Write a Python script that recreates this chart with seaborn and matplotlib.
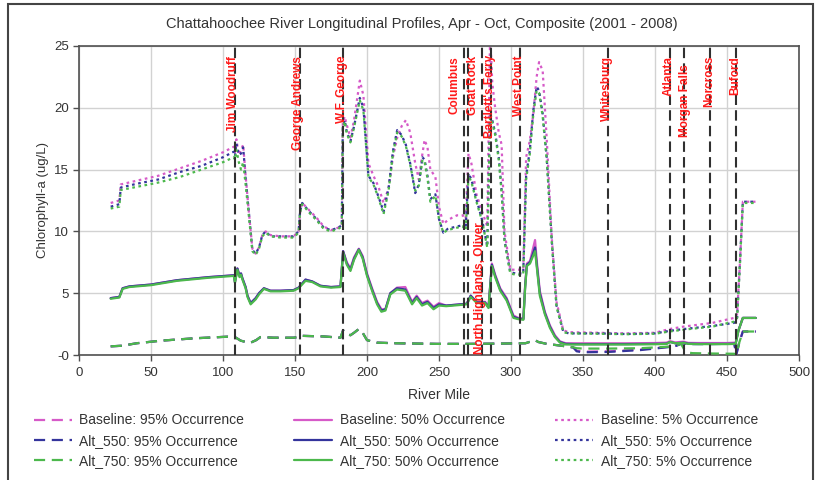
import matplotlib
matplotlib.use("Agg")
import matplotlib.pyplot as plt
import seaborn as sns
from matplotlib.lines import Line2D
from matplotlib.patches import Rectangle

# ---------------- data ----------------
miles_p5 = [22, 28, 29, 40, 55, 70, 85, 100, 107.5, 108.3, 109.3, 111, 112.5, 114, 115.7, 118, 120.4,
            122.7, 125, 127.3, 129.6, 133, 140, 149, 152.5, 153.5, 155, 160, 165, 170, 175, 180, 182.5,
            183.2, 184.5, 186, 188.5, 191, 195, 197.5, 201, 204.5, 208, 211.5, 215, 218, 221, 224, 227,
            230, 233.5, 236, 238.5, 240, 242, 244, 247.5, 250, 253, 256, 259, 262.5, 266.5, 268.5, 270.5,
            272.5, 276, 280, 283.5, 285.5, 287, 289, 291.5, 293.5, 295.5, 299.5, 303, 308.5, 310.5, 313,
            315.5, 317.8, 319.5, 322, 324.8, 328.3, 331.6, 336.3, 340, 360, 380, 400, 410, 420, 440, 455,
            457, 459, 461, 470]
base_p5 = [12.3, 12.5, 13.8, 14.1, 14.5, 15.1, 15.7, 16.4, 16.85, 16.4, 17.45, 16.2, 16.6, 17.0, 14.5, 11.5, 8.6,
           8.2, 8.7, 9.7, 10.0, 9.7, 9.6, 9.6, 10.0, 11.5, 12.3, 11.7, 11.1, 10.4, 10.1, 10.3, 10.5,
           18.8, 19.3, 18.6, 17.6, 19.0, 22.2, 21.0, 15.5, 14.5, 13.6, 12.3, 13.5, 16.0, 17.6, 18.5, 19.0,
           18.0, 15.5, 14.2, 16.3, 17.4, 16.8, 15.0, 14.4, 12.0, 10.6, 10.9, 11.1, 11.3, 11.3, 11.0, 16.3,
           15.5, 13.0, 11.6, 10.4, 26.0, 22.0, 20.0, 18.0, 17.0, 10.0, 6.9, 6.9, 6.9, 16.0, 17.3,
           19.5, 22.5, 23.7, 23.0, 17.5, 9.5, 4.3, 2.0, 1.85, 1.8, 1.75, 1.8, 2.1, 2.3, 2.6, 3.0,
           3.3, 7.5, 12.4, 12.4]
alt550_p5 = [12.0, 12.2, 13.55, 13.85, 14.2, 14.8, 15.3, 16.0, 16.45, 16.1, 17.1, 16.2, 16.3, 16.8, 14.3, 11.5, 8.5,
             8.2, 8.7, 9.7, 10.0, 9.6, 9.6, 9.6, 10.0, 11.6, 12.3, 11.6, 11.0, 10.3, 10.1, 10.3, 10.5,
             18.5, 19.0, 18.0, 17.3, 18.5, 20.8, 20.0, 14.5, 13.9, 12.8, 11.6, 13.5, 16.5, 18.2, 17.8, 17.0,
             15.5, 13.1, 13.8, 16.0, 15.8, 14.5, 12.6, 13.0, 11.0, 9.9, 10.2, 10.3, 10.4, 10.5, 10.2, 14.7,
             14.2, 12.6, 10.9, 8.8, 19.5, 19.0, 18.0, 16.0, 13.3, 9.3, 6.7, 6.6, 6.6, 14.5, 16.5,
             19.8, 21.7, 21.4, 19.5, 16.0, 9.3, 4.0, 1.9, 1.75, 1.75, 1.7, 1.75, 1.95, 2.1, 2.35, 2.6,
             3.0, 7.5, 12.4, 12.4]
alt750_p5 = [11.85, 12.0, 13.35, 13.6, 13.95, 14.4, 15.0, 15.6, 16.0, 15.8, 16.6, 15.6, 15.0, 15.6, 13.8, 11.2, 8.4,
             8.1, 8.6, 9.6, 9.9, 9.6, 9.5, 9.5, 9.9, 11.5, 12.2, 11.5, 10.9, 10.2, 10.0, 10.2, 10.4,
             18.4, 18.9, 17.9, 17.2, 18.4, 20.6, 19.8, 14.4, 13.8, 12.7, 11.4, 13.3, 16.3, 18.0, 17.7, 16.9,
             15.4, 13.3, 13.7, 15.8, 15.6, 14.3, 12.4, 12.9, 11.0, 9.9, 10.1, 10.2, 10.3, 10.4, 10.1, 14.5,
             14.0, 12.4, 10.8, 8.7, 19.2, 18.8, 17.8, 15.8, 13.1, 9.2, 6.6, 6.5, 6.5, 14.2, 16.2,
             19.5, 21.4, 21.2, 19.3, 15.8, 9.2, 3.9, 1.85, 1.75, 1.72, 1.68, 1.72, 1.9, 2.05, 2.3, 2.7,
             3.0, 7.4, 12.3, 12.3]

miles_p50 = [22, 28, 30.3, 35, 50, 68, 90, 107.5, 108.3, 110, 111.5, 112.5, 113.5, 115.7, 117, 119.2, 122.7,
             125, 128.4, 133, 140, 149, 152.5, 157.3, 162, 167.7, 175, 181.6, 183.4, 186, 188.5, 191, 194.3,
             197, 200, 203.5, 207, 210, 212.8, 216.2, 220.8, 226.6, 231.3, 234.5, 238.2, 242, 246.2, 250,
             255, 260, 265, 269.3, 272, 276.3, 282, 284.4, 286.7, 289, 292.5, 297, 301.7, 305, 308.6, 309.8,
             311, 313.2, 316.7, 318, 320, 323.5, 327, 330.5, 334, 338, 345, 360, 380, 400, 408, 410.5, 414,
             420, 423, 430, 440, 450, 456, 458, 461, 470]
base_p50 = [4.6, 4.7, 5.4, 5.55, 5.7, 6.05, 6.3, 6.45, 5.9, 7.0, 6.4, 6.6, 6.2, 5.5, 4.8, 4.2, 4.6,
            5.0, 5.4, 5.2, 5.2, 5.25, 5.45, 6.1, 5.95, 5.6, 5.5, 5.55, 8.4, 7.5, 7.0, 7.9, 8.6,
            8.0, 6.6, 5.4, 4.3, 3.7, 3.7, 5.0, 5.45, 5.5, 4.3, 4.8, 4.2, 4.4, 3.9, 4.2,
            4.0, 4.05, 4.1, 4.15, 4.8, 4.3, 4.3, 3.9, 7.4, 6.5, 5.4, 4.6, 3.2, 3.0, 2.95, 5.6,
            7.4, 7.6, 9.3, 7.5, 5.2, 3.5, 2.4, 1.6, 1.1, 0.95, 0.95, 0.95, 0.95, 0.97, 1.0, 1.12, 1.02,
            1.08, 0.98, 0.97, 0.97, 0.97, 1.0, 2.0, 3.0, 3.0]
alt550_p50 = [4.6, 4.7, 5.4, 5.55, 5.7, 6.05, 6.3, 6.45, 5.9, 7.0, 6.4, 6.6, 6.2, 5.5, 4.8, 4.2, 4.6,
              5.0, 5.4, 5.2, 5.2, 5.25, 5.45, 6.1, 5.95, 5.6, 5.5, 5.55, 8.4, 7.4, 6.9, 7.8, 8.55,
              7.9, 6.5, 5.3, 4.2, 3.6, 3.7, 5.0, 5.4, 5.3, 4.2, 4.7, 4.1, 4.3, 3.8, 4.1,
              4.0, 4.05, 4.1, 4.15, 4.8, 4.25, 4.25, 3.85, 7.3, 6.4, 5.3, 4.5, 3.1, 2.95, 2.9, 5.5,
              7.3, 7.5, 8.7, 7.2, 5.0, 3.4, 2.3, 1.5, 1.05, 0.9, 0.88, 0.88, 0.88, 0.9, 0.92, 1.05, 0.95,
              1.0, 0.92, 0.9, 0.9, 0.9, 0.92, 2.0, 3.0, 3.0]
alt750_p50 = [4.55, 4.65, 5.35, 5.5, 5.65, 6.0, 6.25, 6.4, 5.85, 6.9, 6.3, 6.5, 6.1, 5.4, 4.7, 4.1, 4.5,
              4.9, 5.35, 5.15, 5.15, 5.2, 5.4, 6.0, 5.9, 5.55, 5.45, 5.5, 8.3, 7.3, 6.8, 7.7, 8.5,
              7.8, 6.4, 5.2, 4.1, 3.5, 3.6, 4.9, 5.3, 5.2, 4.1, 4.6, 4.0, 4.2, 3.7, 4.0,
              3.95, 4.0, 4.05, 4.1, 4.7, 4.2, 4.2, 3.8, 7.2, 6.3, 5.2, 4.4, 3.0, 2.9, 2.85, 5.4,
              7.2, 7.4, 8.4, 7.0, 4.8, 3.3, 2.2, 1.45, 1.0, 0.85, 0.85, 0.85, 0.85, 0.87, 0.9, 1.05, 0.95,
              0.98, 0.9, 0.88, 0.88, 0.88, 0.9, 2.0, 3.0, 3.0]

miles_p95 = [22, 30, 40, 57, 80, 103, 107.5, 109, 112.3, 116, 119.2, 123, 126, 135, 149, 152.5, 155, 170,
             181.6, 183.4, 186, 188.5, 191, 194.3, 197, 200, 207, 220, 248.5, 269.3, 290, 310, 314, 316.7,
             319, 324.8, 335, 343.3, 345.6, 350, 368, 390, 410.3, 415, 418, 420, 423, 426, 440, 455, 456.5,
             458.5, 461, 470]
base_p95 = [0.7, 0.75, 0.95, 1.16, 1.35, 1.48, 1.45, 1.4, 1.16, 1.05, 1.0, 1.2, 1.45, 1.4, 1.4, 1.45, 1.55, 1.5,
            1.4, 2.0, 1.7, 1.6, 1.8, 2.1, 1.8, 1.2, 1.0, 0.95, 0.9, 0.9, 0.92, 0.95, 1.1, 1.2,
            1.05, 0.9, 0.75, 0.62, 0.35, 0.27, 0.3, 0.45, 0.68, 0.78, 0.92, 0.98, 0.85, 0.9, 0.9, 0.95, 0.05,
            1.0, 1.9, 1.9]
alt550_p95 = [0.7, 0.75, 0.95, 1.16, 1.35, 1.48, 1.45, 1.4, 1.16, 1.05, 1.0, 1.2, 1.45, 1.4, 1.4, 1.45, 1.55, 1.5,
              1.4, 2.0, 1.7, 1.6, 1.8, 2.1, 1.8, 1.2, 1.0, 0.95, 0.9, 0.9, 0.92, 0.95, 1.1, 1.2,
              1.05, 0.9, 0.75, 0.6, 0.3, 0.22, 0.25, 0.4, 0.65, 0.75, 0.9, 0.95, 0.8, 0.88, 0.88, 0.92, 0.05,
              1.0, 1.9, 1.9]
alt750_p95 = [0.7, 0.75, 0.95, 1.16, 1.35, 1.48, 1.45, 1.4, 1.16, 1.05, 1.0, 1.2, 1.45, 1.4, 1.4, 1.45, 1.55, 1.5,
              1.4, 2.0, 1.7, 1.6, 1.8, 2.1, 1.8, 1.2, 1.0, 0.95, 0.9, 0.9, 0.92, 0.95, 1.1, 1.2,
              1.05, 0.9, 0.75, 0.62, 0.55, 0.52, 0.52, 0.55, 0.68, 0.78, 0.92, 0.5, 0.2, 0.15, 0.12, 0.1, 0.0,
              1.0, 1.9, 1.9]

dam_names = ["Jim Woodruff", "George Andrews", "W.F. George", "Columbus", "North Highlands, Oliver",
             "Goat Rock", "Bartlett's Ferry", "West Point", "Whitesburg", "Atlanta", "Morgan Falls",
             "Norcross", "Buford"]
dam_miles = [108.2, 153.5, 183.0, 267.5, 270.3, 280.2, 286.0, 306.0, 367.5, 410.3, 420.0, 438.5, 456.0]
label_miles = [107.0, 152.0, 182.3, 261.0, 278.5, 273.5, 285.5, 305.5, 367.0, 409.5, 421.0, 437.5, 455.5]
label_tops = [24.2, 24.2, 24.2, 24.2, 10.7, 24.2, 24.3, 24.2, 24.2, 24.2, 23.5, 24.2, 24.2]

x_ticks = [0, 50, 100, 150, 200, 250, 300, 350, 400, 450, 500]
y_ticks = [0, 5, 10, 15, 20, 25]
y_tick_labels = ["-0", "5", "10", "15", "20", "25"]

title = "Chattahoochee River Longitudinal Profiles, Apr - Oct, Composite (2001 - 2008)"

# ---------------- style ----------------
sns.set_theme(style="white")
plt.rcParams['font.family'] = ['Liberation Sans', 'DejaVu Sans']

c_base = "#d65ac8"
c_550 = "#34349c"
c_750 = "#4cb84c"

fig = plt.figure(figsize=(8.23, 4.80), dpi=100)
ax = fig.add_axes([79 / 823, 1 - 355 / 480, 720 / 823, 309 / 480])

series = [
    ("Baseline: 95% Occurrence", miles_p95, base_p95, c_base, (0, (5, 3))),
    ("Alt_550: 95% Occurrence", miles_p95, alt550_p95, c_550, (0, (5, 3))),
    ("Alt_750: 95% Occurrence", miles_p95, alt750_p95, c_750, (0, (5, 3))),
    ("Baseline: 50% Occurrence", miles_p50, base_p50, c_base, "-"),
    ("Alt_550: 50% Occurrence", miles_p50, alt550_p50, c_550, "-"),
    ("Alt_750: 50% Occurrence", miles_p50, alt750_p50, c_750, "-"),
    ("Baseline: 5% Occurrence", miles_p5, base_p5, c_base, (0, (1.2, 1.6))),
    ("Alt_550: 5% Occurrence", miles_p5, alt550_p5, c_550, (0, (1.2, 1.6))),
    ("Alt_750: 5% Occurrence", miles_p5, alt750_p5, c_750, (0, (1.2, 1.6))),
]

handles = []
for name, xs, ys, col, ls in series:
    sns.lineplot(x=xs, y=ys, ax=ax, color=col, linestyle=ls, linewidth=1.6,
                 sort=False, estimator=None, zorder=3)
    handles.append(Line2D([], [], color=col, linestyle=ls, linewidth=1.6, label=name))

for m in dam_miles:
    ax.axvline(m, color="#303030", linestyle=(0, (5, 2.5)), linewidth=1.5, zorder=4)

for name, lm, top in zip(dam_names, label_miles, label_tops):
    ax.text(lm, top, name, rotation=90, ha="center", va="top", color="#ff1a1a",
            fontsize=8.5, fontweight="bold", zorder=5)

ax.set_xlim(0, 500)
ax.set_ylim(0, 25)
ax.set_xticks(x_ticks)
ax.set_yticks(y_ticks)
ax.set_yticklabels(y_tick_labels)
ax.grid(True, color="#d2d2d2", linewidth=1.0)
ax.set_axisbelow(True)
for s in ax.spines.values():
    s.set_color("#505050")
    s.set_linewidth(1.2)
ax.tick_params(axis="both", direction="out", length=4, width=1, color="#505050",
               labelsize=9.5, labelcolor="#333333", pad=3, bottom=True, left=True)
ax.tick_params(axis="x", pad=5)
ax.set_xlabel("River Mile", fontsize=10, color="#333333", labelpad=6)
ax.set_ylabel("Chlorophyll-a (ug/L)", fontsize=9.5, color="#333333", labelpad=4)
fig.text(0.513, 1 - 24 / 480, title, ha="center", va="center", fontsize=10.5, color="#333333")

fig.legend(handles=handles, ncol=3, loc="upper left", bbox_to_anchor=(21 / 823, 1 - 401 / 480),
           frameon=False, fontsize=10, handlelength=2.75, handletextpad=0.55,
           columnspacing=3.6, labelspacing=0.45, labelcolor="#333333")

fig.patches.append(Rectangle((8 / 823, -0.01), 805 / 823, 1 - 4 / 480 + 0.01,
                             transform=fig.transFigure, fill=False, edgecolor="#444444",
                             linewidth=1.5))

fig.savefig("out.png", dpi=100)
